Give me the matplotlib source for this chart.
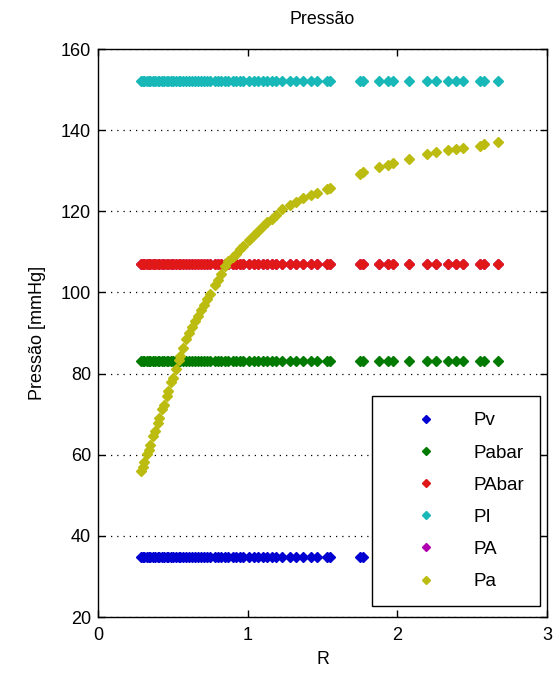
import matplotlib
matplotlib.use("Agg")
import matplotlib.pyplot as plt
import numpy as np

plt.rcParams['font.family'] = ['Liberation Sans', 'DejaVu Sans']

# Resistance values (R)
R = [0.29, 0.30, 0.31, 0.33, 0.34, 0.35, 0.37, 0.38, 0.40, 0.41, 0.43, 0.44,
     0.46, 0.47, 0.49, 0.50, 0.52, 0.54, 0.55, 0.57, 0.59, 0.61, 0.63, 0.65,
     0.67, 0.69, 0.71, 0.73, 0.75, 0.78, 0.80, 0.82, 0.85, 0.87, 0.90, 0.92,
     0.95, 0.97, 1.01, 1.04, 1.07, 1.10, 1.13, 1.16, 1.19, 1.23, 1.28, 1.32,
     1.37, 1.42, 1.46, 1.53, 1.55, 1.75, 1.77, 1.88, 1.94, 1.97, 2.08, 2.20,
     2.26, 2.34, 2.39, 2.44, 2.55, 2.58, 2.67]

# Arterial pressure Pa for each R
Pa = [56.0, 57.0, 58.1, 60.2, 61.2, 62.3, 64.6, 65.8, 67.9, 69.0, 71.2, 72.3,
      74.5, 75.6, 77.8, 79.0, 81.2, 83.3, 84.4, 86.3, 88.4, 90.0, 91.5, 92.9,
      94.3, 95.6, 97.0, 98.3, 99.7, 101.8, 103.1, 104.5, 106.6, 107.7, 108.8,
      109.5, 110.6, 111.4, 113.0, 114.1, 115.2, 116.3, 117.3, 118.2, 119.2,
      120.5, 121.6, 122.4, 123.2, 124.0, 124.6, 125.5, 125.8, 129.2, 129.6,
      131.0, 131.5, 132.0, 132.9, 134.1, 134.6, 135.0, 135.3, 135.7, 136.1,
      136.6, 137.2]

# Constant pressures
Pv_level = 34.7
Pabar_level = 83.0
PAbar_level = 107.0
PI_level = 152.0
PA_level = 107.0

n = len(R)
Pv = [Pv_level] * n
Pabar = [Pabar_level] * n
PAbar = [PAbar_level] * n
PI = [PI_level] * n
PA = [PA_level] * n

series_names = ['Pv', 'Pabar', 'PAbar', 'PI', 'PA', 'Pa']
series_vals = [Pv, Pabar, PAbar, PI, PA, Pa]
colors = ['#0000d0', '#007a00', '#e01818', '#18b8b8', '#b000b0', '#bcbc10']
zorders = [3, 3, 3, 3, 2, 4]

fig = plt.figure(figsize=(5.55, 6.8), dpi=100)
ax = fig.add_axes([98/555, 1 - 617/680, (547-98)/555, (617-49)/680])

for name, vals, c, z in zip(series_names, series_vals, colors, zorders):
    ax.plot(R, vals, linestyle='none', marker='D', markersize=5.2,
            color=c, markeredgecolor=c, label=name, zorder=z)

ax.set_xlim(0, 3)
ax.set_ylim(20, 160)
ax.set_xticks([0, 1, 2, 3])
ax.set_yticks(np.arange(20, 161, 20))
ax.yaxis.grid(True, linestyle=(0, (1, 4)), color='black', linewidth=0.9)
ax.set_axisbelow(True)

ax.tick_params(direction='in', length=5, width=1, top=True, right=True,
               labelsize=13, colors='black')
ax.tick_params(axis='x', pad=7)
ax.tick_params(axis='y', pad=5)
for s in ax.spines.values():
    s.set_linewidth(1.0)
    s.set_color('black')

ax.set_title('Pressão', fontsize=12.8, pad=18)
ax.set_xlabel('R', fontsize=12.8, labelpad=5)
ax.set_ylabel('Pressão [mmHg]', fontsize=13, labelpad=11)

leg = ax.legend(loc='lower right', bbox_to_anchor=(540/555, 1 - 606/680),
                bbox_transform=fig.transFigure, fontsize=13.5, frameon=True,
                fancybox=False, edgecolor='black', framealpha=1,
                handletextpad=0.55, labelspacing=0.8, borderpad=0.85,
                borderaxespad=0.0, handlelength=4.0, markerscale=0.8)
leg.get_frame().set_linewidth(1.0)

fig.savefig('out.png', dpi=100)
